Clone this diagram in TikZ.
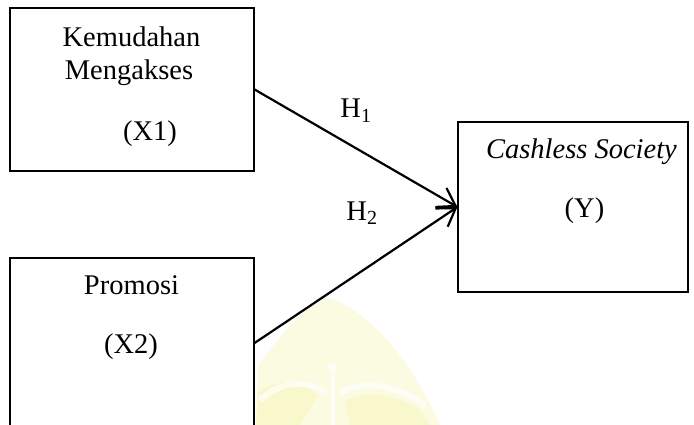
\documentclass[tikz,border=0pt]{standalone}
\usepackage{fontspec}
\setmainfont{Liberation Serif}
\usetikzlibrary{arrows.meta}
\definecolor{wmark}{RGB}{251,251,226}
\definecolor{wmarkdeep}{RGB}{249,247,204}
\tikzset{
  varbox/.style={draw=black, line width=1.2pt, rectangle, inner sep=0pt},
  lbl/.style={anchor=base, inner sep=0pt, font=\fontsize{28.5}{34}\selectfont},
  path arrow/.style={line width=2.2pt, -{Straight Barb[length=17pt,width=22pt,line width=2.2pt]}}
}
\begin{document}
\begin{tikzpicture}[x=1pt, y=-1pt]
  \useasboundingbox (0,0) rectangle (694,425);
  \clip (0,0) rectangle (694,425);
  % faint watermark
  \fill[wmark] (256,425) -- (258,365) .. controls (285,330) and (305,305) .. (330,298)
     .. controls (365,310) and (410,355) .. (440,425) -- cycle;
  \fill[wmarkdeep] (256,425) -- (258,392) .. controls (280,378) and (300,380) .. (318,396) -- (300,425) -- cycle;
  \fill[wmarkdeep] (345,400) .. controls (370,390) and (395,395) .. (420,410) -- (430,425) -- (350,425) -- cycle;
  \fill[white, opacity=0.7] (332,368) circle (5);
  \draw[white, line width=4pt, opacity=0.7] (333,372) -- (333,425);
  \draw[white, line width=6pt, opacity=0.7] (326,392) .. controls (300,378) and (280,383) .. (260,400);
  \draw[white, line width=6pt, opacity=0.7] (340,392) .. controls (370,378) and (400,388) .. (425,405);
  % boxes
  \node[varbox, minimum width=244pt, minimum height=163pt] (x1) at (132,89.5) {};
  \node[varbox, minimum width=244pt, minimum height=170pt] (x2) at (132,343) {};
  \node[varbox, minimum width=230pt, minimum height=170pt] (y) at (573,207) {};
  % texts
  \node[lbl] (t1) at (131.5,47) {Kemudahan};
  \node[lbl] (t2) at (129,80) {Mengakses};
  \node[lbl] (t3) at (150,141) {(X1)};
  \node[lbl] (t4) at (131.5,294) {Promosi};
  \node[lbl] (t5) at (131,353) {(X2)};
  \node[lbl] (t6) at (581.5,159) {\itshape Cashless Society};
  \node[lbl] (t7) at (584.5,218) {(Y)};
  \node[lbl] (h1) at (356,118) {H\textsubscript{1}};
  \node[lbl] (h2) at (362,220) {H\textsubscript{2}};
  % connectors
  \draw[path arrow] (x1.east) -- (y.west);
  \draw[path arrow] (x2.east) -- (y.west);
\end{tikzpicture}
\end{document}
